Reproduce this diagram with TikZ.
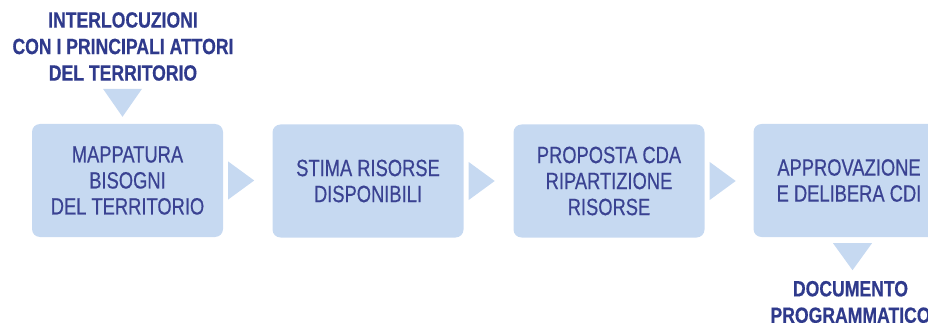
\documentclass[tikz,border=0pt]{standalone}
\usepackage{fontspec}
\newfontfamily\cond[FakeStretch=0.78,FakeBold=0.5]{Liberation Sans}
\newfontfamily\condb[FakeStretch=0.8,FakeBold=0.5]{Liberation Sans Bold}
\usetikzlibrary{calc}
\definecolor{boxfill}{RGB}{198,217,241}
\definecolor{txtblue}{RGB}{58,66,146}
\definecolor{boldblue}{RGB}{47,58,140}
\tikzset{
  stepbox/.style={fill=boxfill, draw=none, rounded corners=8pt, minimum width=191pt, minimum height=113pt,
    inner sep=0pt, align=center, text=txtblue, font=\cond\fontsize{23.5}{26}\selectfont},
  outlabel/.style={align=center, text=boldblue, inner sep=0pt, font=\condb\fontsize{22}{26.5}\selectfont},
  tri/.style={fill=boxfill, draw=none}
}
\begin{document}
\begin{tikzpicture}[x=1pt,y=-1pt]
\useasboundingbox (0,0) rectangle (928,323);
\clip (0,0) rectangle (928,323);
\node[stepbox] (b1) at (127.5,180.5) {MAPPATURA\\BISOGNI\\DEL TERRITORIO};
\node[stepbox] (b2) at (368,181) {STIMA RISORSE\\DISPONIBILI};
\node[stepbox] (b3) at (609,181) {PROPOSTA CDA\\RIPARTIZIONE\\RISORSE};
\node[stepbox] (b4) at (849,180.5) {APPROVAZIONE\\E DELIBERA CDI};
\node[outlabel] (top) at (123,46.5) {INTERLOCUZIONI\\CON I PRINCIPALI ATTORI\\DEL TERRITORIO};
\node[outlabel] (bot) at (850.5,302) {DOCUMENTO\\PROGRAMMATICO};
% right-pointing triangles
\foreach \a/\b in {b1/b2,b2/b3,b3/b4}{
  \fill[tri] ($(\a.east)+(5,-19)$) -- ($(\a.east)+(5,19)$) -- ($(\a.east)+(31,0)$) -- cycle;
}
% down-pointing triangles
\fill[tri] ($(b1.north)+(-24.5,-35)$) -- ($(b1.north)+(14.5,-35)$) -- ($(b1.north)+(-5,-7)$) -- cycle;
\fill[tri] ($(b4.south)+(-16,6)$) -- ($(b4.south)+(23,6)$) -- ($(b4.south)+(3.5,33)$) -- cycle;
\end{tikzpicture}
\end{document}
